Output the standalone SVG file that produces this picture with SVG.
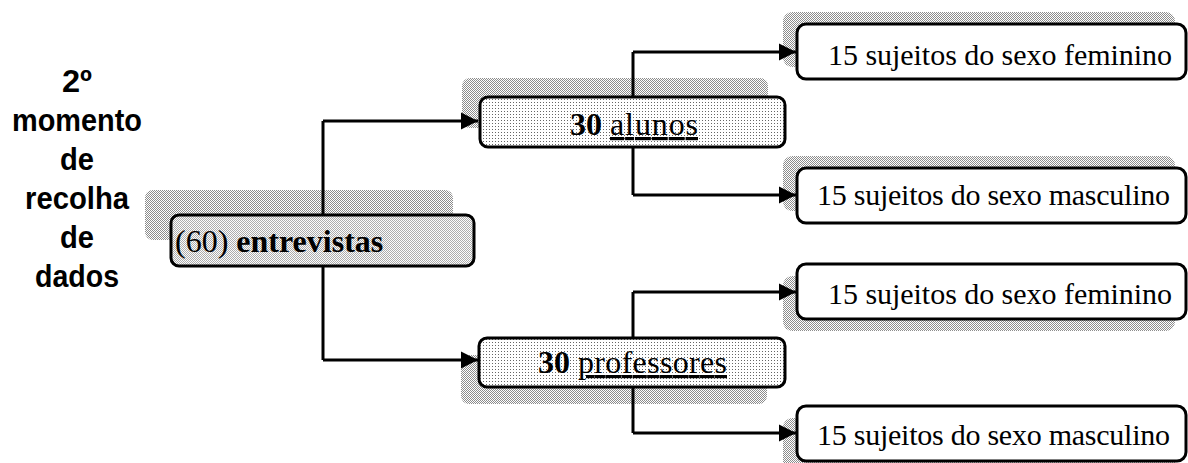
<svg xmlns="http://www.w3.org/2000/svg" width="1188" height="463" viewBox="0 0 1188 463">
<defs>
<pattern id="shade" width="2" height="2" patternUnits="userSpaceOnUse">
<rect width="2" height="2" fill="#fff"/>
<rect width="1" height="1" fill="#8c8c8c"/>
<rect x="1" y="1" width="1" height="1" fill="#8c8c8c"/>
</pattern>
<pattern id="dense" width="2" height="2" patternUnits="userSpaceOnUse">
<rect width="2" height="2" fill="#fcfcfc"/>
<rect width="1" height="1" fill="#acacac"/>
<rect x="1" y="1" width="1" height="1" fill="#acacac"/>
</pattern>
<pattern id="sparse" width="3" height="3" patternUnits="userSpaceOnUse">
<rect width="3" height="3" fill="#fff"/>
<rect width="1" height="1" fill="#666"/>
</pattern>
<marker id="arr" markerUnits="userSpaceOnUse" markerWidth="18" markerHeight="20" refX="17" refY="10" orient="auto">
<path d="M0,1.5 L17,10 L0,18.5 z" fill="#000"/>
</marker>
<style>
.sh{fill:url(#shade);}
.box{stroke:#000;stroke-width:3;}
.w{fill:#fff;}
.t{font-family:"Liberation Serif","Times New Roman",serif;font-size:30px;fill:#000;}
.m{font-size:32px;}
.b{font-weight:bold;}
.u{text-decoration:underline;}
.side{font-family:"Liberation Sans",Arial,sans-serif;font-size:32px;font-weight:bold;fill:#000;text-anchor:middle;}
.c{fill:none;stroke:#000;stroke-width:3;}
.a{marker-end:url(#arr);}
</style>
</defs>
<rect width="1188" height="463" fill="#fff"/>

<g id="title">
<text class="side" x="77" y="92" textLength="30" lengthAdjust="spacingAndGlyphs">2º</text>
<text class="side" x="77" y="131" textLength="130" lengthAdjust="spacingAndGlyphs">momento</text>
<text class="side" x="77" y="170" textLength="34" lengthAdjust="spacingAndGlyphs">de</text>
<text class="side" x="77" y="209" textLength="104" lengthAdjust="spacingAndGlyphs">recolha</text>
<text class="side" x="77" y="248" textLength="34" lengthAdjust="spacingAndGlyphs">de</text>
<text class="side" x="77" y="287" textLength="84" lengthAdjust="spacingAndGlyphs">dados</text>
</g>

<g id="entrevistas">
<rect class="sh" x="145" y="190" width="308" height="50" rx="8"/>
<rect class="box" x="171" y="215" width="303" height="51" rx="8" fill="url(#dense)"/>
<text class="t m" x="175" y="252">(60) <tspan class="b">entrevistas</tspan></text>
</g>

<g id="alunos">
<rect class="sh" x="462" y="78" width="306" height="50" rx="8"/>
<rect class="box" x="480" y="97" width="305" height="50" rx="8" fill="url(#sparse)"/>
<text class="t m" y="135"><tspan class="b" x="570">30</tspan><tspan class="u" x="610" textLength="88">alunos</tspan></text>
</g>

<g id="professores">
<rect class="sh" x="461" y="355" width="306" height="49" rx="8"/>
<rect class="box" x="479" y="338" width="306" height="49" rx="8" fill="url(#sparse)"/>
<text class="t m" y="373"><tspan class="b" x="538">30</tspan><tspan class="u" x="578" textLength="149">professores</tspan></text>
</g>

<g id="alunos-fem">
<rect class="sh" x="783" y="12" width="392" height="55" rx="9"/>
<rect class="box w" x="797" y="24" width="389" height="55" rx="9"/>
<text class="t" x="828" y="65" textLength="344">15 sujeitos do sexo feminino</text>
</g>

<g id="alunos-masc">
<rect class="sh" x="783" y="156" width="392" height="55" rx="9"/>
<rect class="box w" x="797" y="168" width="389" height="55" rx="9"/>
<text class="t" x="817" y="205" textLength="353">15 sujeitos do sexo masculino</text>
</g>

<g id="prof-fem">
<rect class="sh" x="783" y="276" width="392" height="55" rx="9"/>
<rect class="box w" x="797" y="264" width="389" height="55" rx="9"/>
<text class="t" x="828" y="304" textLength="344">15 sujeitos do sexo feminino</text>
</g>

<g id="prof-masc">
<rect class="sh" x="783" y="418" width="392" height="55" rx="9"/>
<rect class="box w" x="797" y="406" width="389" height="55" rx="9"/>
<text class="t" x="817" y="445" textLength="353">15 sujeitos do sexo masculino</text>
</g>

<g id="connectors">
<path class="c" d="M323,215 V121"/>
<path class="c a" d="M323,121 H478"/>
<path class="c" d="M323,266 V360"/>
<path class="c a" d="M323,360 H478"/>
<path class="c" d="M633,97 V52"/>
<path class="c a" d="M633,52 H796"/>
<path class="c" d="M633,147 V195"/>
<path class="c a" d="M633,195 H796"/>
<path class="c" d="M633,338 V292"/>
<path class="c a" d="M633,292 H796"/>
<path class="c" d="M633,387 V433"/>
<path class="c a" d="M633,433 H796"/>
</g>
</svg>
